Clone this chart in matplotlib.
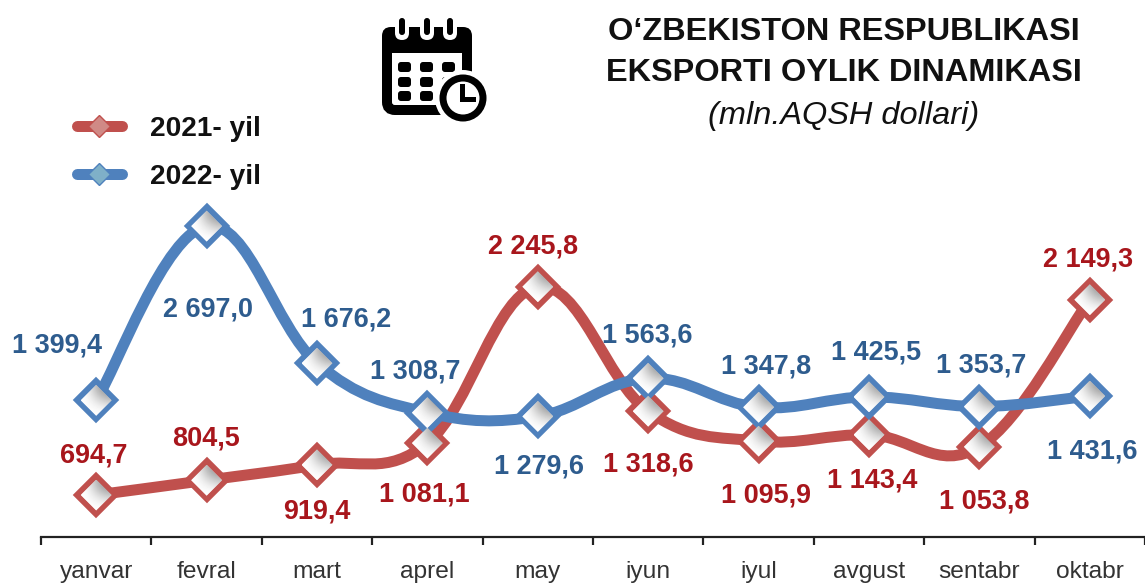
import matplotlib
matplotlib.use("Agg")
import matplotlib.pyplot as plt
import numpy as np
from matplotlib.lines import Line2D
from matplotlib.path import Path
from matplotlib.patches import PathPatch, Polygon, Circle, FancyBboxPatch

plt.rcParams['font.family'] = ['Liberation Sans', 'DejaVu Sans']

months = ["yanvar", "fevral", "mart", "aprel", "may", "iyun", "iyul", "avgust", "sentabr", "oktabr"]
exports_2021 = [694.7, 804.5, 919.4, 1081.1, 2245.8, 1318.6, 1095.9, 1143.4, 1053.8, 2149.3]
exports_2022 = [1399.4, 2697.0, 1676.2, 1308.7, 1279.6, 1563.6, 1347.8, 1425.5, 1353.7, 1431.6]

#label offsets from the point, in pixels (right, up)
offsets_2021 = [(-3, 40), (-1, 42), (0, -47), (-3, -51), (-5, 40), (0, -53), (7, -54), (3, -46), (5, -55), (-2, 40)]
offsets_2022 = [(-39, 55), (1, -83), (29, 44), (-12, 41), (1, -50), (-1, 43), (8, 41), (7, 44), (2, 41), (2, -55)]

RED = "#C0504D"
BLUE = "#4F81BD"
RED_TEXT = "#A8161C"
BLUE_TEXT = "#2E5C8E"
W, H = 1145, 583
PX = 0.72  #pixels to points at dpi 100


def number_label(value):
    #space for thousands, comma for decimals
    return f"{value:,.1f}".replace(",", " ").replace(".", ",")


def smooth_path(x, y, tension=0.19):
    #cubic segments through every point, like the smooth line option in a spreadsheet
    verts = [(x[0], y[0])]
    codes = [Path.MOVETO]
    n = len(x)
    for i in range(n - 1):
        x0, y0 = (x[i - 1], y[i - 1]) if i > 0 else (x[i], y[i])
        x3, y3 = (x[i + 2], y[i + 2]) if i + 2 < n else (x[i + 1], y[i + 1])
        verts.append((x[i] + (x[i + 1] - x0) * tension, y[i] + (y[i + 1] - y0) * tension))
        verts.append((x[i + 1] - (x3 - x[i]) * tension, y[i + 1] - (y3 - y[i]) * tension))
        verts.append((x[i + 1], y[i + 1]))
        codes += [Path.CURVE4] * 3
    return Path(verts, codes)


def draw_series(ax, values, color, text_color, offsets):
    x = np.arange(len(values))
    ax.add_patch(PathPatch(smooth_path(x, values), fill=False, edgecolor=color, lw=11 * PX,
                           capstyle="round", zorder=3))
    ax.plot(x, values, linestyle="none", marker="D", ms=27 * PX, mfc="white", mec=color, mew=6 * PX, zorder=4)

    #grey shading inside each diamond
    gradient = np.array([[1.0, 0.72, 0.55], [1.0, 0.9, 0.78], [1.0, 1.0, 1.0]])
    dx = 15.5 / 110.4
    dy = 15.5 / px_per_value
    for xi, yi in zip(x, values):
        diamond = Polygon([(xi - dx, yi), (xi, yi + dy), (xi + dx, yi), (xi, yi - dy)], transform=ax.transData)
        img = ax.imshow(gradient, extent=(xi - dx, xi + dx, yi - dy, yi + dy), cmap="gray", vmin=0, vmax=1,
                        interpolation="bicubic", aspect="auto", zorder=5)
        img.set_clip_path(diamond)

    for xi, yi, off in zip(x, values, offsets):
        ax.annotate(number_label(yi), (xi, yi), xytext=(off[0] * PX, off[1] * PX), textcoords="offset points",
                    ha="center", va="center", fontsize=27 * PX, fontweight="bold", color=text_color, zorder=6)


px_per_value = 0.1343
y_bottom = 382.0
y_top = y_bottom + 537 / px_per_value

fig = plt.figure(figsize=(W / 100, H / 100), dpi=100)
ax = fig.add_axes([41 / W, (H - 537) / H, 1104 / W, 537 / H])

draw_series(ax, exports_2021, RED, RED_TEXT, offsets_2021)
draw_series(ax, exports_2022, BLUE, BLUE_TEXT, offsets_2022)

ax.set_xlim(-0.5, 9.5)
ax.set_ylim(y_bottom, y_top)
ax.patch.set_visible(False)
for side in ["top", "left", "right"]:
    ax.spines[side].set_visible(False)
ax.spines["bottom"].set_linewidth(2.2 * PX)
ax.spines["bottom"].set_color("#222222")
ax.set_yticks([])
ax.set_xticks(np.arange(-0.5, 10, 1))
ax.set_xticklabels([])
ax.tick_params(axis="x", which="major", length=8 * PX, width=2.2 * PX, color="#222222")
ax.set_xticks(np.arange(10), labels=months, minor=True)
ax.tick_params(axis="x", which="minor", length=0, pad=24 * PX, labelsize=24.5 * PX, labelcolor="#333333")

handles = [
    Line2D([], [], color=RED, lw=11 * PX, solid_capstyle="round", marker="D", ms=15 * PX, mfc="#D08A86", mec=RED),
    Line2D([], [], color=BLUE, lw=11 * PX, solid_capstyle="round", marker="D", ms=15 * PX, mfc="#7FB0C8", mec=BLUE),
]
ax.legend(handles, ["2021- yil", "2022- yil"], loc="upper left", bbox_to_anchor=(77 / W, (H - 116) / H),
          bbox_transform=fig.transFigure, frameon=False, borderpad=0, borderaxespad=0,
          prop={"size": 28 * PX, "weight": "bold"}, handlelength=1.6, handletextpad=1.0, labelspacing=0.78,
          labelcolor="#111111")

fig.text(844 / W, 1 - 32 / H, "O‘ZBEKISTON RESPUBLIKASI", ha="center", va="center", fontsize=32.5 * PX,
         fontweight="bold", color="#111111")
fig.text(844 / W, 1 - 73 / H, "EKSPORTI OYLIK DINAMIKASI", ha="center", va="center", fontsize=32.5 * PX,
         fontweight="bold", color="#111111")
fig.text(844 / W, 1 - 116 / H, "(mln.AQSH dollari)", ha="center", va="center", fontsize=32.5 * PX,
         fontstyle="italic", color="#111111")

#calendar icon, drawn in pixel coordinates on its own layer
icon = fig.add_axes([0, 0, 1, 1], zorder=10)
icon.set_xlim(0, W)
icon.set_ylim(H, 0)
icon.axis("off")
icon.add_patch(FancyBboxPatch((387, 32), 80, 78, boxstyle="round,pad=0,rounding_size=8", fc="white", ec="black", lw=10 * PX))
icon.add_patch(FancyBboxPatch((382, 27), 90, 26, boxstyle="round,pad=0,rounding_size=9", fc="black", ec="none"))
for rx in [402, 427, 450]:
    icon.add_patch(FancyBboxPatch((rx - 7, 15), 14, 25, boxstyle="round,pad=0,rounding_size=7", fc="white", ec="none"))
    icon.add_patch(FancyBboxPatch((rx - 3, 18), 6, 17, boxstyle="round,pad=0,rounding_size=3", fc="black", ec="none"))
for cy in [62, 77, 91]:
    for cx in [398, 420, 442]:
        if cy == 91 and cx == 442:
            continue
        icon.add_patch(FancyBboxPatch((cx, cy), 13, 10, boxstyle="round,pad=0,rounding_size=3", fc="black", ec="none"))
icon.add_patch(Circle((463, 98), 28, fc="white", ec="none"))
icon.add_patch(Circle((463, 98), 20, fc="white", ec="black", lw=7 * PX))
icon.plot([462, 462, 473], [86, 99, 99], color="black", lw=5 * PX, solid_joinstyle="miter")

fig.savefig("out.png", dpi=100)
